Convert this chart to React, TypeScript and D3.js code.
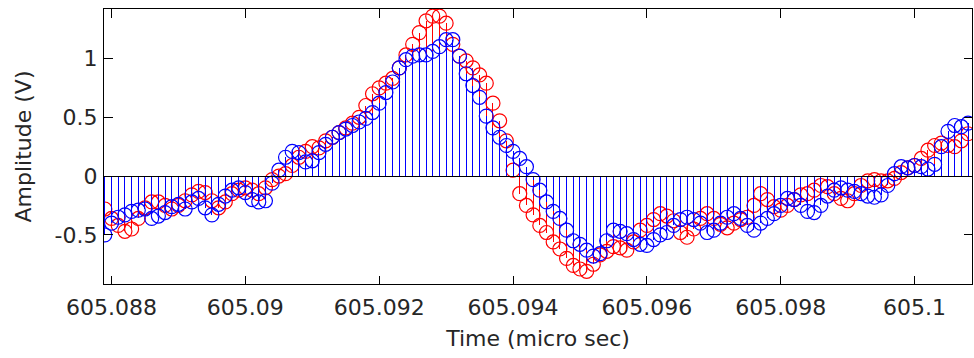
import React from "react";
import * as d3 from "d3";

const T0 = 605.0879;
const DT = 0.0001;

const blueValues = [
  -0.50, -0.40, -0.35, -0.33, -0.30, -0.29, -0.28, -0.36, -0.34, -0.31,
  -0.26, -0.24, -0.28, -0.22, -0.19, -0.27, -0.33, -0.24, -0.17, -0.12,
  -0.10, -0.14, -0.20, -0.22, -0.21, -0.06, 0.05, 0.16, 0.21, 0.20,
  0.12, 0.13, 0.20, 0.27, 0.33, 0.37, 0.40, 0.43, 0.46, 0.49,
  0.54, 0.62, 0.71, 0.80, 0.92, 0.99, 1.02, 1.03, 1.03, 1.06,
  1.10, 1.16, 1.16, 1.02, 0.87, 0.77, 0.67, 0.51, 0.41, 0.33,
  0.26, 0.21, 0.15, 0.08, -0.03, -0.12, -0.22, -0.30, -0.36, -0.46,
  -0.55, -0.58, -0.63, -0.68, -0.66, -0.55, -0.46, -0.47, -0.49, -0.54,
  -0.58, -0.59, -0.54, -0.50, -0.48, -0.42, -0.37, -0.35, -0.37, -0.40,
  -0.48, -0.46, -0.40, -0.35, -0.32, -0.36, -0.42, -0.46, -0.40, -0.36,
  -0.32, -0.25, -0.19, -0.20, -0.25, -0.30, -0.31, -0.25, -0.17, -0.12,
  -0.10, -0.12, -0.13, -0.15, -0.17, -0.18, -0.16, -0.08, 0.02, 0.08,
  0.07, 0.09, 0.08, 0.06, 0.10, 0.25, 0.38, 0.43, 0.42, 0.45,
];

const redValues = [
  -0.28, -0.36, -0.42, -0.47, -0.45, -0.36, -0.27, -0.22, -0.22, -0.25,
  -0.28, -0.25, -0.21, -0.16, -0.13, -0.14, -0.21, -0.27, -0.22, -0.15,
  -0.12, -0.10, -0.12, -0.15, -0.10, -0.03, 0.00, 0.02, 0.09, 0.16,
  0.21, 0.25, 0.24, 0.30, 0.33, 0.37, 0.41, 0.45, 0.50, 0.60,
  0.70, 0.75, 0.79, 0.83, 0.92, 1.03, 1.12, 1.22, 1.32, 1.36,
  1.36, 1.30, 1.12, 1.02, 0.98, 0.92, 0.86, 0.79, 0.62, 0.47,
  0.30, 0.05, -0.15, -0.25, -0.33, -0.42, -0.48, -0.56, -0.62, -0.70,
  -0.76, -0.79, -0.81, -0.75, -0.67, -0.64, -0.60, -0.61, -0.63, -0.56,
  -0.46, -0.42, -0.37, -0.32, -0.34, -0.38, -0.48, -0.52, -0.45, -0.36,
  -0.32, -0.36, -0.41, -0.44, -0.40, -0.37, -0.35, -0.25, -0.15, -0.20,
  -0.26, -0.29, -0.25, -0.20, -0.16, -0.15, -0.12, -0.08, -0.09, -0.15,
  -0.19, -0.21, -0.15, -0.08, -0.04, -0.03, -0.04, -0.04, -0.02, 0.03,
  0.07, 0.09, 0.15, 0.22, 0.26, 0.28, 0.26, 0.25, 0.30, 0.36,
];

const times = blueValues.map((_, i) => T0 + i * DT);

const xTicks = [605.088, 605.09, 605.092, 605.094, 605.096, 605.098, 605.1];
const xTickLabels = ["605.088", "605.09", "605.092", "605.094", "605.096", "605.098", "605.1"];
const yTicks = [-0.5, 0, 0.5, 1];
const yTickLabels = ["-0.5", "0", "0.5", "1"];

const W = 974;
const H = 358;
const L = 103.5;
const R = 972.5;
const TOP = 8.5;
const BOT = 284.5;

export default function App() {
  const x = d3.scaleLinear().domain([605.08788, 605.100866]).range([L, R]);
  const y = d3.scaleLinear().domain([-0.922, 1.425]).range([BOT, TOP]);
  const tickLen = 9;
  const font = "'DejaVu Sans', sans-serif";
  const textColor = "#262626";

  const series = [
    { vals: redValues, color: "#ff0000" },
    { vals: blueValues, color: "#0000ff" },
  ];

  return (
    <div style={{ position: "absolute", left: 0, top: 0 }}>
      <svg width={W} height={H} style={{ display: "block", background: "#fff" }}>
        <rect x={0} y={0} width={W} height={H} fill="#fff" />
        <defs>
          <clipPath id="plotclip">
            <rect x={L} y={TOP} width={R - L} height={BOT - TOP} />
          </clipPath>
        </defs>
        <g clipPath="url(#plotclip)">
          {series.map((s, si) => (
            <g key={si}>
              {s.vals.map((v, i) => (
                <line
                  key={"s" + i}
                  x1={x(times[i])}
                  x2={x(times[i])}
                  y1={y(0)}
                  y2={y(v)}
                  stroke={s.color}
                  strokeWidth={1}
                  shapeRendering="crispEdges"
                />
              ))}
              {s.vals.map((v, i) => (
                <circle
                  key={"c" + i}
                  cx={x(times[i])}
                  cy={y(v)}
                  r={7}
                  fill="none"
                  stroke={s.color}
                  strokeWidth={1.2}
                />
              ))}
            </g>
          ))}
          <line x1={L} x2={R} y1={y(0)} y2={y(0)} stroke="#000" strokeWidth={1} shapeRendering="crispEdges" />
        </g>
        <rect x={L} y={TOP} width={R - L} height={BOT - TOP} fill="none" stroke="#000" strokeWidth={1} shapeRendering="crispEdges" />
        {xTicks.map((t, i) => (
          <g key={"xt" + i}>
            <line x1={x(t)} x2={x(t)} y1={BOT} y2={BOT - tickLen} stroke="#000" shapeRendering="crispEdges" />
            <line x1={x(t)} x2={x(t)} y1={TOP} y2={TOP + tickLen} stroke="#000" shapeRendering="crispEdges" />
            <text x={x(t)} y={315} textAnchor="middle" fontFamily={font} fontSize={22} fill={textColor}>
              {xTickLabels[i]}
            </text>
          </g>
        ))}
        {yTicks.map((t, i) => (
          <g key={"yt" + i}>
            <line x1={L} x2={L + tickLen} y1={y(t)} y2={y(t)} stroke="#000" shapeRendering="crispEdges" />
            <line x1={R} x2={R - tickLen} y1={y(t)} y2={y(t)} stroke="#000" shapeRendering="crispEdges" />
            <text x={L - 6} y={y(t)} dy="0.36em" textAnchor="end" fontFamily={font} fontSize={22} fill={textColor}>
              {yTickLabels[i]}
            </text>
          </g>
        ))}
        <text x={(L + R) / 2} y={346} textAnchor="middle" fontFamily={font} fontSize={22} fill={textColor}>
          Time (micro sec)
        </text>
        <text
          transform={`translate(31,${(TOP + BOT) / 2}) rotate(-90)`}
          textAnchor="middle"
          fontFamily={font}
          fontSize={22}
          fill={textColor}
        >
          Amplitude (V)
        </text>
      </svg>
    </div>
  );
}
